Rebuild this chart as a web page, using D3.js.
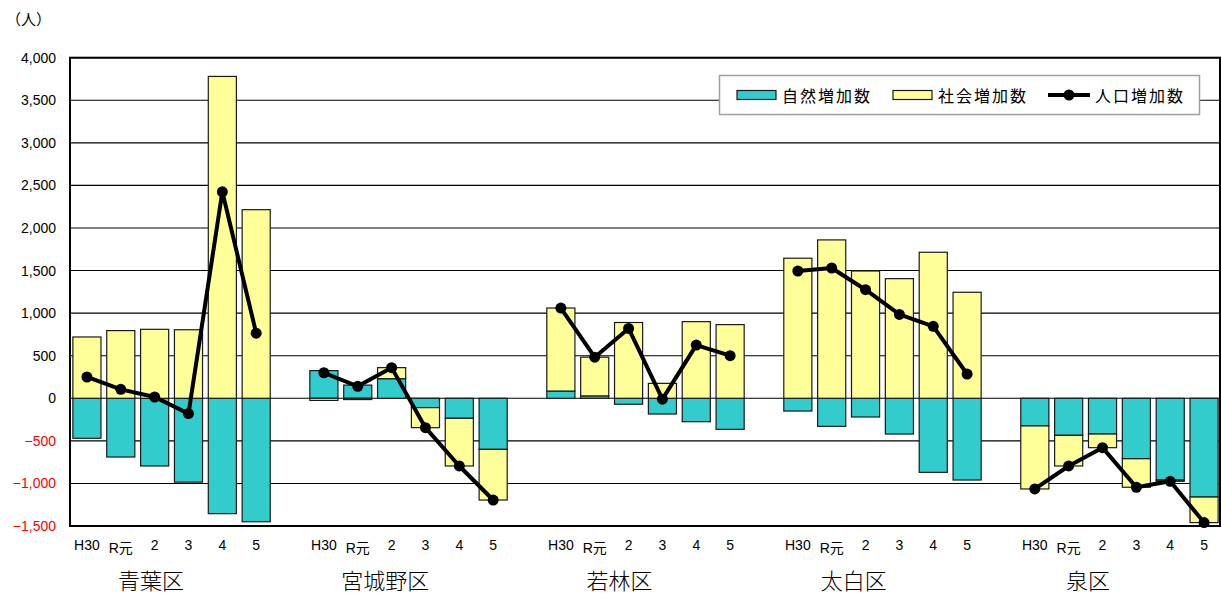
<!DOCTYPE html>
<html lang="ja">
<head>
<meta charset="utf-8">
<script src="https://cdn.jsdelivr.net/npm/d3@7"></script>
<style>
  html, body { margin: 0; padding: 0; background: #fff; }
  svg { display: block; }
</style>
</head>
<body>
<svg id="chart" width="1221" height="595"></svg>
<script>
// 区別・年別の人口動態（自然増加数・社会増加数・人口増加数）
const wards = ["青葉区", "宮城野区", "若林区", "太白区", "泉区"];
const years = ["H30", "R元", "2", "3", "4", "5"];

// 自然増加数（人）
const natural = [
  [-470, -690, -795, -985, -1355, -1450],
  [325, 155, 230, -110, -235, -600],
  [85, 28, -70, -185, -275, -365],
  [-150, -330, -220, -420, -870, -960],
  [-325, -435, -420, -710, -960, -1160]
];
// 社会増加数（人）
const social = [
  [720, 795, 810, 805, 3780, 2215],
  [-25, -15, 130, -235, -560, -595],
  [975, 455, 890, 175, 900, 865],
  [1645, 1860, 1495, 1405, 1715, 1245],
  [-740, -360, -160, -335, -15, -300]
];
const yTicks = [-1500, -1000, -500, 0, 500, 1000, 1500, 2000, 2500, 3000, 3500, 4000];
const legendLabels = ["自然増加数", "社会増加数", "人口増加数"];

const COLORS = { natural: "#33CCCC", social: "#FFFF99" };
const svg = d3.select("#chart");

const plot = { left: 70, right: 1220, top: 57.7, bottom: 526 };

// 区ごとに6本、区の間に空き枠を1つ挟む
const keys = [];
wards.forEach((w, i) => {
  years.forEach((y, j) => keys.push(`${i}-${j}`));
  if (i < wards.length - 1) keys.push(`gap-${i}`);
});
const x = d3.scaleBand().domain(keys).range([plot.left, plot.right + 1])
  .paddingInner(0.17).paddingOuter(0.085);
const y = d3.scaleLinear().domain([-1500, 4000]).range([plot.bottom, plot.top]);

// 目盛線
svg.append("g").selectAll("line").data(yTicks).join("line")
  .attr("x1", plot.left).attr("x2", plot.right)
  .attr("y1", d => y(d)).attr("y2", d => y(d))
  .attr("stroke", "#000").attr("stroke-width", 1.1);

// 縦軸ラベル
const yAxis = d3.axisLeft(y).tickValues(yTicks).tickSize(0).tickPadding(14)
  .tickFormat(d3.format(","));
const yg = svg.append("g").attr("transform", `translate(${plot.left},0)`).call(yAxis);
yg.select(".domain").remove();
yg.selectAll("text")
  .attr("font-family", "'Liberation Sans', Arial, sans-serif")
  .attr("font-size", 14)
  .attr("fill", d => d < 0 ? "#FF0000" : "#000")
  .text(d => d < 0 ? "\u2212" + d3.format(",")(-d) : d3.format(",")(d));

// 積み上げ棒（正は上へ、負は下へ積む）
const bars = [];
wards.forEach((w, i) => {
  years.forEach((yr, j) => {
    const n = natural[i][j], s = social[i][j];
    let pos = 0, neg = 0;
    let nr;
    if (n >= 0) { nr = [0, n]; pos = n; } else { nr = [n, 0]; neg = n; }
    const sr = s >= 0 ? [pos, pos + s] : [neg + s, neg];
    bars.push({ key: `${i}-${j}`, lo: nr[0], hi: nr[1], color: COLORS.natural });
    bars.push({ key: `${i}-${j}`, lo: sr[0], hi: sr[1], color: COLORS.social });
  });
});
svg.append("g").selectAll("rect").data(bars).join("rect")
  .attr("x", d => x(d.key))
  .attr("width", x.bandwidth())
  .attr("y", d => y(d.hi))
  .attr("height", d => Math.max(0, y(d.lo) - y(d.hi)))
  .attr("fill", d => d.color)
  .attr("stroke", "#1a1a1a").attr("stroke-width", 1.2);

// 人口増加数の折れ線（区ごと）
const line = d3.line().x(d => d.x).y(d => d.y);
wards.forEach((w, i) => {
  const pts = years.map((yr, j) => ({
    x: x(`${i}-${j}`) + x.bandwidth() / 2,
    y: y(natural[i][j] + social[i][j])
  }));
  svg.append("path").datum(pts).attr("d", line)
    .attr("fill", "none").attr("stroke", "#000").attr("stroke-width", 4)
    .attr("stroke-linejoin", "round");
  svg.append("g").selectAll("circle").data(pts).join("circle")
    .attr("cx", d => d.x).attr("cy", d => d.y).attr("r", 5.5).attr("fill", "#000");
});

// 枠
svg.append("rect")
  .attr("x", plot.left).attr("y", plot.top)
  .attr("width", plot.right - plot.left).attr("height", plot.bottom - plot.top)
  .attr("fill", "none").attr("stroke", "#000").attr("stroke-width", 2);

// 年度ラベル
svg.append("g").selectAll("text").data(keys.filter(k => !k.startsWith("gap"))).join("text")
  .attr("x", d => x(d) + x.bandwidth() / 2)
  .attr("y", d => d.endsWith("-1") ? 553 : 550)
  .attr("text-anchor", "middle")
  .attr("font-family", "'Liberation Sans', Arial, 'Noto Sans CJK JP', sans-serif")
  .attr("font-size", 14)
  .attr("fill", "#000")
  .text(d => years[+d.split("-")[1]]);

// 区名
const wardX = d3.scaleLinear().domain([0, wards.length - 1]).range([151, 1088]);
svg.append("g").selectAll("text").data(wards).join("text")
  .attr("x", (d, i) => wardX(i))
  .attr("y", 589)
  .attr("text-anchor", "middle")
  .attr("font-family", "'Noto Sans CJK JP', sans-serif")
  .attr("font-weight", 300)
  .attr("font-size", 22)
  .attr("fill", "#000")
  .text(d => d);

// 単位
svg.append("text")
  .attr("x", 6).attr("y", 25)
  .attr("font-family", "'Noto Sans CJK JP', sans-serif")
  .attr("font-size", 15).attr("fill", "#000")
  .text("（人）");

// 凡例
const lg = svg.append("g");
lg.append("rect").attr("x", 719.5).attr("y", 75.5).attr("width", 480).attr("height", 39)
  .attr("fill", "#fff").attr("stroke", "#a0a0a0").attr("stroke-width", 1.5);
const lgY = 95;
lg.append("rect").attr("x", 737).attr("y", lgY - 4.5).attr("width", 39).attr("height", 9)
  .attr("fill", COLORS.natural).attr("stroke", "#1a1a1a").attr("stroke-width", 1.2);
lg.append("rect").attr("x", 893).attr("y", lgY - 4.5).attr("width", 39).attr("height", 9)
  .attr("fill", COLORS.social).attr("stroke", "#1a1a1a").attr("stroke-width", 1.2);
lg.append("line").attr("x1", 1048).attr("x2", 1090).attr("y1", lgY).attr("y2", lgY)
  .attr("stroke", "#000").attr("stroke-width", 4);
lg.append("circle").attr("cx", 1069).attr("cy", lgY).attr("r", 5.5).attr("fill", "#000");
lg.selectAll("text.lab").data(legendLabels).join("text")
  .attr("class", "lab")
  .attr("x", (d, i) => [782, 938, 1095][i])
  .attr("y", lgY)
  .attr("dominant-baseline", "central")
  .attr("font-family", "'Noto Sans CJK JP', sans-serif")
  .attr("font-size", 16)
  .attr("letter-spacing", 2)
  .attr("fill", "#000")
  .text(d => d);
</script>
</body>
</html>
